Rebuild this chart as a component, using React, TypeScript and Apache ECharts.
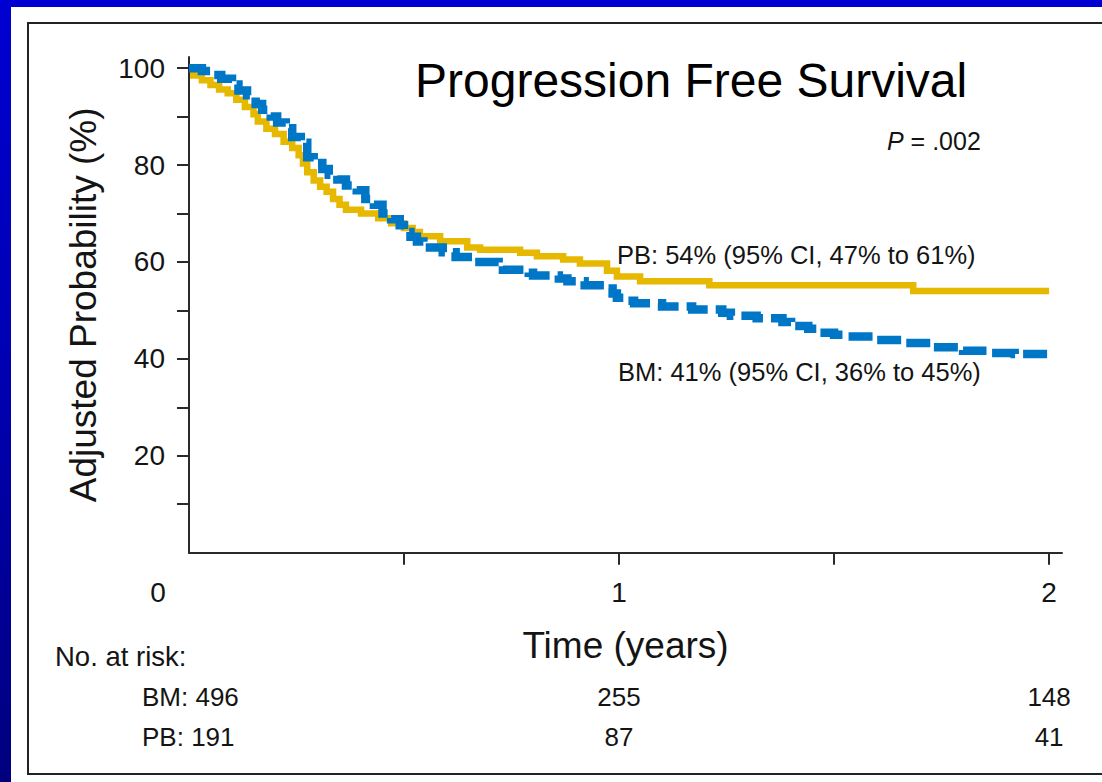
import React, { useEffect, useRef } from "react";
import * as echarts from "echarts";

// Axis ticks and labels
const timeTicks = [0.5, 1, 1.5, 2];
const timeLabels = [0, 1, 2];
const probTicks = [10, 20, 30, 40, 50, 60, 70, 80, 90, 100];
const probLabels = [20, 40, 60, 80, 100];

// Kaplan-Meier step points: [time in years, adjusted probability %]
const pbCurve: [number, number][] = [
  [0, 100], [0.01, 98.5], [0.03, 97.5], [0.05, 96.5], [0.07, 95.6], [0.09, 94.8],
  [0.11, 93.5], [0.13, 92.0], [0.15, 90.5], [0.16, 89.0], [0.18, 87.5], [0.2, 86.4],
  [0.22, 84.8], [0.24, 83.5], [0.255, 82.0], [0.265, 80.3], [0.275, 78.5], [0.29, 76.8],
  [0.305, 75.5], [0.32, 74.5], [0.335, 73.0], [0.35, 71.8], [0.365, 70.8], [0.4, 70.0],
  [0.44, 69.0], [0.47, 68.0], [0.5, 67.0], [0.52, 66.2], [0.537, 65.3], [0.584, 64.3],
  [0.647, 63.0], [0.677, 62.5], [0.77, 61.9], [0.809, 61.2], [0.87, 60.5], [0.909, 59.7],
  [0.972, 58.2], [0.995, 57.0], [1.049, 56.0], [1.21, 55.2], [1.684, 54.0], [2.0, 54.0],
];

const bmCurve: [number, number][] = [
  [0, 100], [0.03, 99.4], [0.05, 98.6], [0.075, 97.8], [0.1, 96.6], [0.115, 95.4],
  [0.135, 94.4], [0.155, 92.6], [0.17, 91.4], [0.19, 90.0], [0.205, 88.8], [0.225, 87.6],
  [0.24, 85.8], [0.26, 84.6], [0.275, 81.6], [0.29, 80.4], [0.31, 79.2], [0.325, 78.0],
  [0.345, 77.0], [0.365, 75.8], [0.39, 74.8], [0.41, 73.0], [0.43, 71.8], [0.45, 70.0],
  [0.47, 68.8], [0.49, 67.6], [0.5, 66.2], [0.515, 65.2], [0.53, 64.2], [0.545, 63.0],
  [0.59, 62.0], [0.62, 61.0], [0.66, 60.0], [0.72, 59.2], [0.73, 58.4], [0.79, 57.8],
  [0.8, 57.2], [0.86, 56.6], [0.88, 56.0], [0.92, 55.2], [0.97, 54.5], [0.985, 53.5],
  [0.995, 52.6], [1.01, 52.0], [1.035, 51.5], [1.1, 50.8], [1.17, 50.2], [1.24, 49.5],
  [1.26, 48.9], [1.32, 48.4], [1.38, 47.6], [1.4, 46.8], [1.44, 46.2], [1.46, 45.4],
  [1.5, 45.0], [1.53, 44.6], [1.6, 43.9], [1.66, 43.3], [1.73, 42.4], [1.8, 41.7],
  [1.86, 41.2], [1.92, 41.0], [2.0, 40.8],
];

// Numbers at risk
const riskTimes = [0, 1, 2];
const riskBM = [496, 255, 148];
const riskPB = [191, 87, 41];

const FONT = "'Liberation Sans', Arial, Helvetica, sans-serif";
const INK = "#141414";
const PB_COLOR = "#E6B800";
const BM_COLOR = "#0077C6";

export default function App() {
  const ref = useRef<HTMLDivElement>(null);

  useEffect(() => {
    if (!ref.current) return;
    const chart = echarts.init(ref.current, null, { renderer: "svg" });

    const option: any = {
      animation: false,
      grid: { left: 189, top: 57, right: 40, bottom: 229.3, containLabel: false },
      xAxis: {
        type: "value",
        min: 0,
        max: 2.03,
        name: "Time (years)",
        nameLocation: "middle",
        nameGap: 74,
        nameTextStyle: { fontFamily: FONT, fontSize: 37, color: INK },
        splitLine: { show: false },
        axisLine: { show: true, onZero: false, lineStyle: { color: "#2a2a2a", width: 2 } },
        axisTick: {
          show: true,
          inside: false,
          length: 12,
          customValues: timeTicks,
          lineStyle: { color: "#2a2a2a", width: 2 },
        },
        axisLabel: {
          customValues: timeLabels,
          margin: 26,
          fontFamily: FONT,
          fontSize: 28,
          color: INK,
          formatter: (v: number) => (v === 0 ? "{z|0}" : String(v)),
          rich: {
            z: { padding: [0, 62, 0, 0], fontFamily: FONT, fontSize: 28, color: INK },
          },
        },
      },
      yAxis: {
        type: "value",
        min: 0,
        max: 102.3,
        name: "Adjusted Probability (%)",
        nameLocation: "middle",
        nameRotate: 90,
        nameGap: 87,
        nameTextStyle: { fontFamily: FONT, fontSize: 37, color: INK },
        splitLine: { show: false },
        axisLine: { show: true, onZero: false, lineStyle: { color: "#2a2a2a", width: 2 } },
        axisTick: {
          show: true,
          inside: false,
          length: 12,
          customValues: probTicks,
          lineStyle: { color: "#2a2a2a", width: 2 },
        },
        axisLabel: {
          customValues: probLabels,
          margin: 24,
          fontFamily: FONT,
          fontSize: 28,
          color: INK,
        },
      },
      series: [
        {
          name: "PB",
          type: "line",
          step: "end",
          data: pbCurve,
          showSymbol: false,
          symbol: "none",
          z: 2,
          lineStyle: { color: PB_COLOR, width: 6.5, cap: "butt", join: "miter" },
        },
        {
          name: "BM",
          type: "line",
          step: "end",
          data: bmCurve,
          showSymbol: false,
          symbol: "none",
          z: 3,
          lineStyle: { color: BM_COLOR, width: 8.5, type: [24, 8], cap: "butt", join: "miter" },
        },
      ],
    };
    chart.setOption(option);

    const textStyle = (size: number) => ({ fontFamily: FONT, fontSize: size, fill: INK });
    const graphics: any[] = [
      {
        type: "text",
        x: 415,
        y: 80,
        style: { text: "Progression Free Survival", ...textStyle(48), fill: "#000", verticalAlign: "middle" },
      },
      {
        type: "text",
        x: 887,
        y: 141,
        style: {
          text: "{i|P} = .002",
          ...textStyle(25),
          verticalAlign: "middle",
          rich: { i: { fontFamily: FONT, fontSize: 25, fontStyle: "italic", fill: INK } },
        },
      },
      {
        type: "text",
        x: 617,
        y: 255,
        style: { text: "PB: 54% (95% CI, 47% to 61%)", ...textStyle(25.5), verticalAlign: "middle" },
      },
      {
        type: "text",
        x: 618,
        y: 372,
        style: { text: "BM: 41% (95% CI, 36% to 45%)", ...textStyle(25.5), verticalAlign: "middle" },
      },
      {
        type: "text",
        x: 55,
        y: 656,
        style: { text: "No. at risk:", ...textStyle(27.5), verticalAlign: "middle" },
      },
    ];

    riskTimes.forEach((t, i) => {
      if (i === 0) {
        graphics.push(
          { type: "text", x: 142, y: 697, style: { text: `BM: ${riskBM[i]}`, ...textStyle(26), verticalAlign: "middle" } },
          { type: "text", x: 142, y: 737, style: { text: `PB: ${riskPB[i]}`, ...textStyle(26), verticalAlign: "middle" } }
        );
      } else {
        const px = chart.convertToPixel({ xAxisIndex: 0 }, t) as number;
        graphics.push(
          { type: "text", x: px, y: 697, style: { text: String(riskBM[i]), ...textStyle(26), align: "center", verticalAlign: "middle" } },
          { type: "text", x: px, y: 737, style: { text: String(riskPB[i]), ...textStyle(26), align: "center", verticalAlign: "middle" } }
        );
      }
    });

    chart.setOption({ graphic: graphics });

    return () => chart.dispose();
  }, []);

  return (
    <div
      style={{
        position: "fixed",
        left: 0,
        top: 0,
        width: 1102,
        height: 782,
        background: "linear-gradient(to bottom, #0000D2 0%, #0000B0 50%, #00007E 100%)",
        overflow: "hidden",
      }}
    >
      <div style={{ position: "absolute", left: 11, top: 7, right: 0, bottom: 0, background: "#fff" }} />
      <div
        style={{
          position: "absolute",
          left: 27,
          top: 22,
          width: 1100,
          height: 753,
          border: "2px solid #222",
          boxSizing: "border-box",
        }}
      />
      <div ref={ref} style={{ position: "absolute", left: 0, top: 0, width: 1102, height: 782 }} />
    </div>
  );
}
